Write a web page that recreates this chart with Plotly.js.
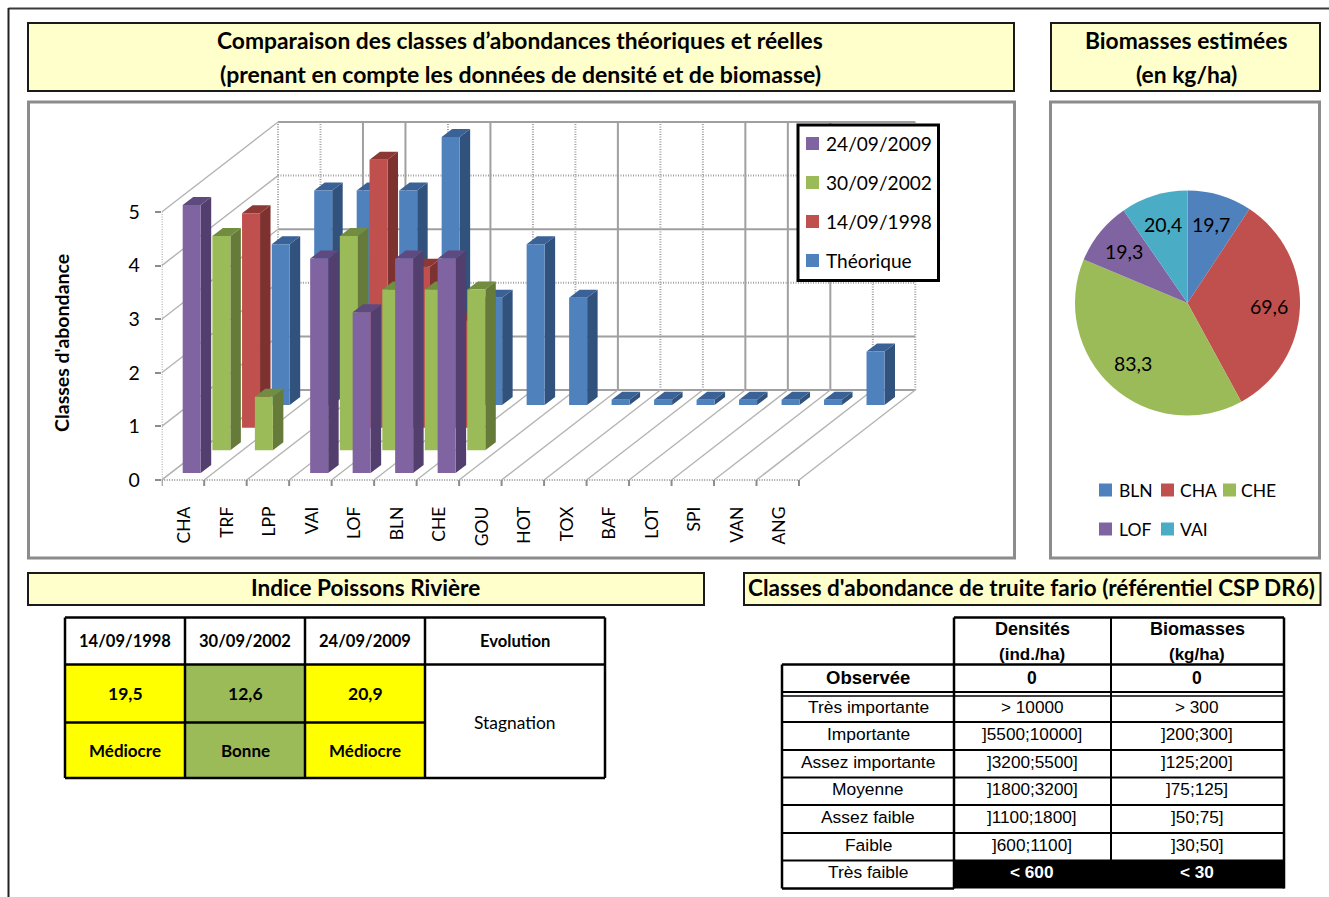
<!DOCTYPE html>
<html><head><meta charset="utf-8">
<script src="https://cdn.plot.ly/plotly-3.0.1.min.js"></script>
<style>html,body{margin:0;padding:0;background:#fff;overflow:hidden}#c{width:1329px;height:897px}</style>
</head><body><div id="c"></div>
<script>
// ---------- DATA ----------
const categories = ['CHA','TRF','LPP','VAI','LOF','BLN','CHE','GOU','HOT','TOX','BAF','LOT','SPI','VAN','ANG'];
const seriesNames = ['24/09/2009','30/09/2002','14/09/1998','Théorique'];
const v2009 = [5,null,null,4,3,4,4,null,null,null,null,null,null,null,null];
const v2002 = [4,1,null,4,3,3,3,null,null,null,null,null,null,null,null];
const v1998 = [4,null,null,5,3,2,null,null,null,null,null,null,null,null,null];
const vTheo = [3,4,4,4,5,2,3,2,0.1,0.1,0.1,0.1,0.1,0.1,1];
const pieLabels = ['BLN','CHA','CHE','LOF','VAI'];
const pieValues = [19.7,69.6,83.3,19.3,20.4];
const iprDates = ['14/09/1998','30/09/2002','24/09/2009'];
const iprScores = ['19,5','12,6','20,9'];
const iprClasses = ['Médiocre','Bonne','Médiocre'];
const classNames = ['Très importante','Importante','Assez importante','Moyenne','Assez faible','Faible','Très faible'];
const densities = ['> 10000',']5500;10000]',']3200;5500]',']1800;3200]',']1100;1800]',']600;1100]','< 600'];
const biomasses = ['> 300',']200;300]',']125;200]',']75;125]',']50;75]',']30;50]','< 30'];

// ---------- STYLE ----------
const W=1329,H=897;
const px=x=>x/W, py=y=>1-y/H;
const SANS='Lato, "Noto Sans", sans-serif', ARIAL='"Liberation Sans", Arial, sans-serif';
const faceCol=['#8064A2','#9BBB59','#C0504D','#4F81BD'];
const sideCol=['#533F6E','#667A3A','#7E3230','#31527D'];
const topCol =['#5F4A80','#728C40','#8E3835','#3A6296'];
const ax0=161.7, ax1=799, ay0=480, ay5=212;
const ux=(ax1-ax0)/15, uy=(ay0-ay5)/5;
const wallDX=116.3/ux, wallDY=90/uy;
const stepX=29.67/ux, stepY=22.67/uy, baseX=21/ux, baseY=7/uy, barW=18/ux, sideX=10.5/ux, sideY=8/uy;
const tickDrop=6/uy;
const xMax=15+wallDX+0.05, yMin=-tickDrop-0.02, yMax=5+wallDY+0.05;

const traces=[], shapes=[], ann=[];
function rect(x0,y0,x1,y1,fill,line,w,layer){shapes.push({type:'rect',xref:'paper',yref:'paper',x0:px(x0),x1:px(x1),y0:py(y0),y1:py(y1),fillcolor:fill||'rgba(0,0,0,0)',line:{color:line||'rgba(0,0,0,0)',width:w||0},layer:layer||'below'});}
function seg(x0,y0,x1,y1,c,w,layer){shapes.push({type:'line',xref:'paper',yref:'paper',x0:px(x0),x1:px(x1),y0:py(y0),y1:py(y1),line:{color:c,width:w},layer:layer||'below'});}
function text(x,y,t,size,opt){opt=opt||{};ann.push({xref:'paper',yref:'paper',x:px(x),y:py(y),text:t,showarrow:false,xanchor:opt.a||'center',yanchor:'middle',
  font:{family:opt.f||SANS,size:size,color:opt.c||'#000',weight:opt.b?700:400},align:'center',textangle:opt.rot||0,borderpad:0});}

// ---------- FRAME, PANELS ----------
seg(8.5,8.5,W,8.5,'#3a3a3a',2); seg(8.5,8,8.5,H,'#222',2);
const yellow='#FFFFCC';
rect(28,23,1014,91,yellow,'#1a1a1a',2); rect(1051,23,1320,91,yellow,'#1a1a1a',2);
rect(28.5,102,1014.5,558,'#fff','#8c8c8c',3); rect(1050.5,102,1319.5,558,'#fff','#8c8c8c',3);
rect(28,573,704,605,yellow,'#1a1a1a',2); rect(744,573,1320.5,605,yellow,'#1a1a1a',2);
text(520,40.5,'Comparaison des classes d’abondances théoriques et réelles',22.8,{b:1});
text(520,73.5,'(prenant en compte les données de densité et de biomasse)',23,{b:1});
text(1186,40.5,'Biomasses estimées',22.8,{b:1}); text(1186,73.5,'(en kg/ha)',22.8,{b:1});
text(365.5,587.5,'Indice Poissons Rivière',22.6,{b:1});
text(1031.5,587.5,"Classes d'abondance de truite fario (référentiel CSP DR6)",22.5,{b:1});

// ---------- 3D-LOOK BAR CHART (oblique projection of the data) ----------
const gridSolid='#a0a0a0', gridDiag='#b4b4b4';
function lineTrace(xs,ys,c,w,dash){traces.push({type:'scatter',mode:'lines',x:xs,y:ys,line:{color:c,width:w,dash:dash||'solid'},hoverinfo:'skip',showlegend:false});}
const wallLevels=[0,1,2,3,4,5], wallLevelDotted=[false,false,true,false,true,false];
const n=categories.length;
// back wall horizontals
[false,true].forEach(d=>{const xs=[],ys=[];wallLevels.forEach((v,i)=>{if(wallLevelDotted[i]===d){xs.push(wallDX,n+wallDX,null);ys.push(v+wallDY,v+wallDY,null);}});
  lineTrace(xs,ys,gridSolid,2,d?'1px,1.5px':'solid');});
// back wall verticals
const wallVertDotted=[1,1,0,0,1,0,1,1,0,1,1,0,0,0,1,1];
[0,1].forEach(d=>{const xs=[],ys=[];wallVertDotted.forEach((f,i)=>{if(f===d){xs.push(i+wallDX,i+wallDX,null);ys.push(wallDY,5+wallDY,null);}});
  lineTrace(xs,ys,gridSolid,2,d?'1px,1.5px':'solid');});
// side wall and floor diagonals
{const xs=[],ys=[];wallLevels.forEach(v=>{xs.push(0,wallDX,null);ys.push(v,v+wallDY,null);});
 for(let i=0;i<=n;i++){xs.push(i,i+wallDX,null);ys.push(0,wallDY,null);}
 lineTrace(xs,ys,gridDiag,1.4);}
// front left and front floor edges + category ticks
lineTrace([0,0],[0,5],gridSolid,2,'1px,1.5px');
lineTrace([0,n],[0,0],gridSolid,2,'1px,1.5px');
{const xs=[],ys=[];for(let i=0;i<=n;i++){xs.push(i,i,null);ys.push(0,-tickDrop,null);}lineTrace(xs,ys,'#8c8c8c',2);}
// bars, back series first
const allSeries=[v2009,v2002,v1998,vTheo];
[3,2,1,0].forEach(k=>{
  const f={x:[],y:[]},s={x:[],y:[]},t={x:[],y:[]};
  allSeries[k].forEach((v,i)=>{ if(v===null) return;
    const x0=i+baseX+k*stepX, x1=x0+barW, y0=baseY+k*stepY, y1=y0+v;
    f.x.push(x0,x1,x1,x0,x0,null); f.y.push(y0,y0,y1,y1,y0,null);
    s.x.push(x1,x1+sideX,x1+sideX,x1,x1,null); s.y.push(y0,y0+sideY,y1+sideY,y1,y0,null);
    t.x.push(x0,x1,x1+sideX,x0+sideX,x0,null); t.y.push(y1,y1,y1+sideY,y1+sideY,y1,null);
  });
  [[s,sideCol[k]],[t,topCol[k]],[f,faceCol[k]]].forEach(([g,c],j)=>traces.push({type:'scatter',mode:'lines',name:seriesNames[k],x:g.x,y:g.y,fill:'toself',fillcolor:c,
    line:{width:0,color:c},hoverinfo:j==2?'name':'skip',showlegend:false}));
});
// legend box
rect(798,125,938.5,280.5,'#fff','#000',3,'above');
seriesNames.forEach((nm,i)=>{const yc=143.5+i*39;rect(806,yc-6.5,819,yc+6.5,faceCol[i],null,0,'above');text(824.5,yc,nm,19.1,{a:'left'});});
text(61,343,"Classes d'abondance",19.5,{b:1,rot:-90});

// ---------- PIE ----------
const pieCols=['#4F81BD','#C0504D','#9BBB59','#8064A2','#4BACC6'];
const cx=1187.5, cy=303, R=112.5;
traces.push({type:'pie',labels:pieLabels,values:pieValues,sort:false,direction:'clockwise',rotation:0,marker:{colors:pieCols,line:{width:0}},textinfo:'none',showlegend:false,
  domain:{x:[px(cx-R),px(cx+R)],y:[py(cy+R),py(cy-R)]},hovertemplate:'%{label}: %{value}<extra></extra>'});
const total=pieValues.reduce((a,b)=>a+b,0); let acc=0;
pieValues.forEach(v=>{const mid=(acc+v/2)/total*2*Math.PI;acc+=v;text(cx+82*Math.sin(mid),cy-82*Math.cos(mid),String(v).replace('.',','),19.5);});
const pieLegX=[[1099,1118],[1161,1179],[1223,1240],[1099,1118],[1161,1179]], pieLegY=[490,490,490,529,529];
pieLabels.forEach((l,i)=>{rect(pieLegX[i][0],pieLegY[i]-6.5,pieLegX[i][0]+13,pieLegY[i]+6.5,pieCols[i],null,0,'above');text(pieLegX[i][1],pieLegY[i],l,17.5,{a:'left'});});

// ---------- TABLE IPR ----------
const tx=[65,185,305,425,605], ty=[617.5,664.5,722.5,778];
const ipCols=['#FFFF00','#9BBB59','#FFFF00'];
ipCols.forEach((c,i)=>rect(tx[i],ty[1],tx[i+1],ty[3],c));
for(let i=0;i<3;i++){
  text((tx[i]+tx[i+1])/2,641,iprDates[i],16.5,{b:1});
  text((tx[i]+tx[i+1])/2,693.5,iprScores[i],17.5,{b:1});
  text((tx[i]+tx[i+1])/2,750.5,iprClasses[i],17,{b:1});
}
text(515,641,'Evolution',16.6,{b:1}); text(514,722,'Stagnation',17.4);
[ty[0],ty[1],ty[3]].forEach(y=>seg(tx[0],y,tx[4],y,'#000',2.5));
seg(tx[0],ty[2],tx[3],ty[2],'#000',2.5);
tx.forEach(x=>seg(x,ty[0],x,ty[3],'#000',2.5));

// ---------- TABLE CLASSES ----------
const cxs=[782,954,1111,1284], cys=[617.5,664.5,692,722,750,777.5,805,833,860.5,888.5];
rect(cxs[1],cys[8],cxs[3],cys[9],'#000');
seg(cxs[1],cys[0],cxs[3],cys[0],'#000',2.5);
seg(cxs[0],cys[1],cxs[3],cys[1],'#000',2.5);
seg(cxs[0],cys[2],cxs[3],cys[2],'#000',2);
seg(cxs[0],cys[2]+4,cxs[3],cys[2]+4,'#000',1.5);
for(let i=3;i<=8;i++) seg(cxs[0],cys[i],cxs[3],cys[i],'#000',2);
seg(cxs[0],cys[9],cxs[1],cys[9],'#000',2.5);
seg(cxs[0],cys[1],cxs[0],cys[9],'#000',2.5);
seg(cxs[1],cys[0],cxs[1],cys[9],'#000',2.5);
seg(cxs[2],cys[0],cxs[2],cys[8],'#000',2);
seg(cxs[3],cys[0],cxs[3],cys[9],'#000',2.5);
const c1=868,c2=1032,c3=1197;
text(c2,629,'Densités',18,{f:ARIAL,b:1}); text(c2,654,'(ind./ha)',17,{f:ARIAL,b:1});
text(c3,629,'Biomasses',18,{f:ARIAL,b:1}); text(c3,654,'(kg/ha)',17,{f:ARIAL,b:1});
text(c1,677.5,'Observée',18.5,{f:ARIAL,b:1}); text(c2,677.5,'0',17.5,{f:ARIAL,b:1}); text(c3,677.5,'0',17.5,{f:ARIAL,b:1});
const rowY=[707,734,762,789,817,845,872];
classNames.forEach((nm,i)=>{const last=i===6;
  text(c1,rowY[i],nm,17.4,{f:ARIAL});
  text(c2,rowY[i],densities[i],17.2,{f:ARIAL,b:last,c:last?'#fff':'#000'});
  text(c3,rowY[i],biomasses[i],17.2,{f:ARIAL,b:last,c:last?'#fff':'#000'});
});

const dY=v=>ay0-(v*uy);
const layout={width:W,height:H,margin:{l:0,r:0,t:0,b:0},paper_bgcolor:'#fff',plot_bgcolor:'rgba(0,0,0,0)',showlegend:false,hovermode:'closest',
  shapes:shapes,annotations:ann,
  xaxis:{domain:[px(ax0),px(ax0+xMax*ux)],range:[0,xMax],tickmode:'array',tickvals:categories.map((_,i)=>i+0.54),ticktext:categories,tickangle:-90,ticks:'',ticklabelstandoff:15,
    showgrid:false,zeroline:false,showline:false,fixedrange:true,tickfont:{family:SANS,size:17.5,color:'#000'}},
  yaxis:{domain:[py(dY(yMin)),py(dY(yMax))],range:[yMin,yMax],tickmode:'array',tickvals:wallLevels,ticks:'outside',ticklen:6,tickwidth:2,tickcolor:'#8c8c8c',ticklabelstandoff:11,
    showgrid:false,zeroline:false,showline:false,fixedrange:true,tickfont:{family:SANS,size:19.5,color:'#000'}}
};
Plotly.newPlot('c',traces,layout,{displayModeBar:false});
</script></body></html>
